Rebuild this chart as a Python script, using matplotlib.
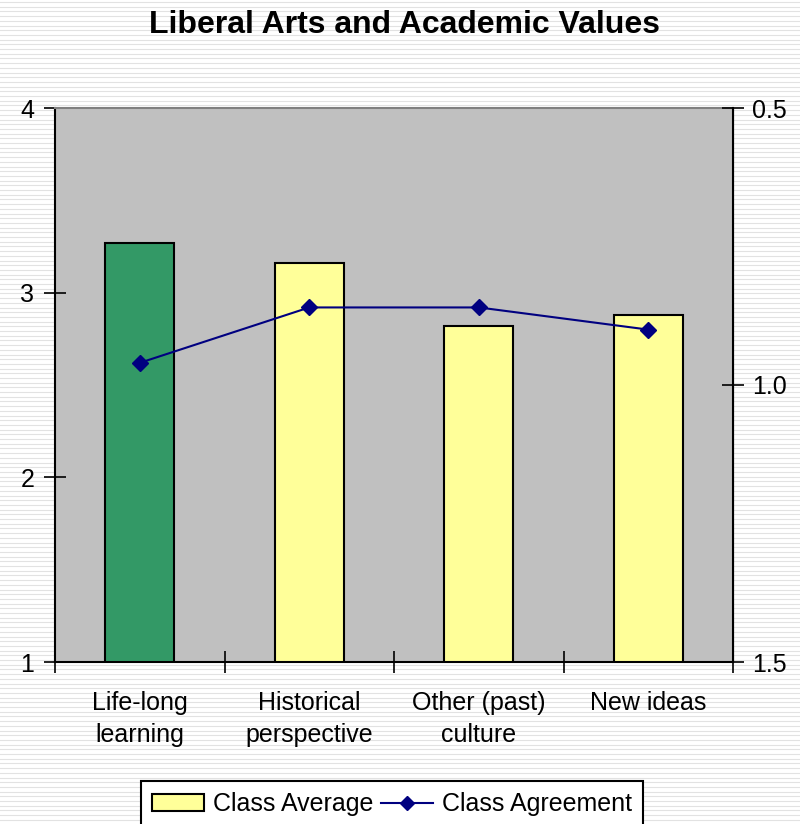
import matplotlib
matplotlib.use("Agg")
import matplotlib.pyplot as plt
from matplotlib.lines import Line2D
from matplotlib.patches import Patch
import numpy as np

plt.rcParams["font.family"] = ["Liberation Sans", "DejaVu Sans"]

categories = ["Life-long\nlearning", "Historical\nperspective", "Other (past)\nculture", "New ideas"]
class_average = [3.27, 3.16, 2.82, 2.88]
class_agreement = [0.96, 0.86, 0.86, 0.90]
bar_colors = ["#339966", "#FFFF99", "#FFFF99", "#FFFF99"]

W, H = 800, 824
fig = plt.figure(figsize=(W / 100, H / 100), dpi=100)
fig.patch.set_facecolor("white")

# striped background texture
for y in np.arange(2, H, 4.7):
    fig.add_artist(Line2D([0, 1], [1 - y / H, 1 - y / H], transform=fig.transFigure,
                          color="#e2e2e2", lw=0.8, zorder=-10))

ax = fig.add_axes([55 / W, 1 - 662 / H, (733 - 55) / W, (662 - 108) / H])
ax.set_facecolor("#C0C0C0")
x = np.arange(len(categories))
ax.bar(x, class_average, width=0.41, color=bar_colors, edgecolor="black", linewidth=1.5, zorder=2)
ax.set_xlim(-0.5, len(categories) - 0.5)
ax.set_ylim(1, 4)
ax.set_yticks([1, 2, 3, 4])
ax.set_xticks(x)
ax.set_xticklabels(categories, fontsize=18, linespacing=1.42)
ax.set_xticks(np.arange(-0.5, len(categories)), minor=True)
ax.tick_params(axis="x", which="major", length=0, pad=21)
ax.tick_params(axis="x", which="minor", length=16, width=1.2, direction="inout")
ax.tick_params(axis="y", labelsize=18, length=16, width=1.2, direction="inout", pad=7)
for side in ["left", "bottom"]:
    ax.spines[side].set_linewidth(1.5)
ax.spines["top"].set_color("#808080")
ax.spines["top"].set_linewidth(1.5)

ax2 = ax.twinx()
ax2.plot(x, class_agreement, color="#000080", lw=1.5, marker="D", markersize=8, zorder=3)
ax2.set_ylim(1.5, 0.5)
ax2.set_yticks([0.5, 1.0, 1.5])
ax2.set_yticklabels(["0.5", "1.0", "1.5"])
ax2.tick_params(axis="y", labelsize=18, length=16, width=1.2, direction="inout", pad=6)
ax2.spines["right"].set_linewidth(1.5)
ax2.spines["top"].set_visible(False)
ax2.spines["left"].set_visible(False)
ax2.spines["bottom"].set_visible(False)

fig.text(0.506, 1 - 25 / H, "Liberal Arts and Academic Values", ha="center", va="center",
         fontsize=23, fontweight="bold")

handles = [Patch(facecolor="#FFFF99", edgecolor="black", linewidth=1.5),
           Line2D([], [], color="#000080", lw=1.5, marker="D", markersize=7)]
leg = fig.legend(handles, ["Class Average", "Class Agreement"], loc="upper center",
                 bbox_to_anchor=(392 / W, 1 - 781 / H), ncol=2, fontsize=18, frameon=True,
                 fancybox=False, edgecolor="black", framealpha=1, handlelength=2.1,
                 handletextpad=0.35, columnspacing=0.3, borderpad=0.45, borderaxespad=0)
leg.get_frame().set_linewidth(1.5)

fig.savefig("out.png", dpi=100)
